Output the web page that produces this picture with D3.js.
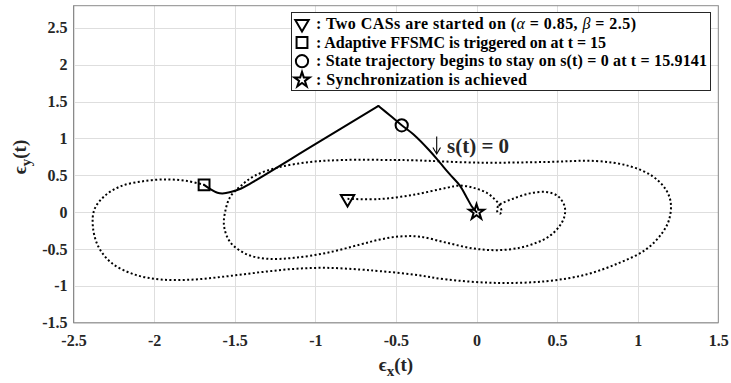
<!DOCTYPE html>
<html>
<head>
<meta charset="utf-8">
<script src="https://cdn.jsdelivr.net/npm/d3@7"></script>
<style>
  body { margin: 0; background: #fff; }
</style>
</head>
<body>
<svg id="chart" width="731" height="383"></svg>
<script>
// Axis settings
const xDomain = [-2.5, 1.5];
const yDomain = [-1.5, 2.8];
const xTicks = [-2.5, -2, -1.5, -1, -0.5, 0, 0.5, 1, 1.5];
const yTicks = [-1.5, -1, -0.5, 0, 0.5, 1, 1.5, 2, 2.5];

// Error trajectory of the two chaotic systems before the controller is switched on
const freeRun = [
  [-0.80, 0.18], [-0.60, 0.178], [-0.39, 0.235], [-0.185, 0.33], [-0.104, 0.36],
  [-0.021, 0.331], [0.062, 0.263], [0.114, 0.172], [0.140, 0.104], [0.155, 0.014],
  [0.145, -0.022], [0.128, 0.014], [0.134, 0.081], [0.165, 0.128], [0.227, 0.182],
  [0.33, 0.254], [0.433, 0.272], [0.505, 0.217], [0.546, 0.082], [0.546, -0.054],
  [0.515, -0.19], [0.453, -0.326], [0.371, -0.416], [0.268, -0.484], [0.124, -0.516],
  [-0.021, -0.493], [-0.185, -0.416], [-0.35, -0.334], [-0.474, -0.33], [-0.598, -0.371],
  [-0.721, -0.439], [-0.927, -0.552], [-1.133, -0.62], [-1.298, -0.633], [-1.422, -0.575],
  [-1.525, -0.416], [-1.566, -0.19], [-1.556, 0.037], [-1.525, 0.217], [-1.463, 0.353],
  [-1.38, 0.489], [-1.236, 0.603], [-1.03, 0.68], [-0.824, 0.707], [-0.515, 0.707],
  [-0.392, 0.703], [0.02, 0.671], [0.433, 0.68], [0.742, 0.693], [0.947, 0.625],
  [1.091, 0.489], [1.174, 0.308], [1.205, 0.128], [1.195, -0.1], [1.153, -0.28],
  [1.051, -0.507], [0.886, -0.688], [0.68, -0.846], [0.433, -0.937], [0.124, -0.96],
  [-0.185, -0.914], [-0.392, -0.846], [-0.598, -0.801], [-0.721, -0.779], [-0.927, -0.756],
  [-1.133, -0.77], [-1.339, -0.815], [-1.545, -0.87], [-1.751, -0.914], [-1.957, -0.914],
  [-2.122, -0.846], [-2.265, -0.688], [-2.347, -0.462], [-2.38, -0.19], [-2.37, 0.037],
  [-2.308, 0.217], [-2.205, 0.353], [-2.061, 0.421], [-1.916, 0.444], [-1.793, 0.421],
  [-1.69, 0.37]
];

// Controlled trajectory: reaching phase, then sliding along s(t) = 0
const reachingPhase = [
  [-1.69, 0.37], [-1.648, 0.308], [-1.607, 0.263], [-1.576, 0.254], [-1.525, 0.272],
  [-1.463, 0.317], [-1.401, 0.39], [-1.0, 0.921], [-0.608, 1.44]
];
const slidingPhase = [
  [-0.608, 1.44], [-0.536, 1.31], [-0.464, 1.178], [-0.392, 1.056], [-0.289, 0.829],
  [-0.227, 0.671], [-0.165, 0.512], [-0.103, 0.36], [-0.06, 0.196], [-0.03, 0.08], [0, 0]
];

// Event markers
const eventPoints = [
  { key: "start", x: -0.8, y: 0.18 },
  { key: "trigger", x: -1.69, y: 0.37 },
  { key: "slide", x: -0.464, y: 1.178 },
  { key: "sync", x: 0, y: 0 }
];

const legendRows = [
  { key: "start", parts: [[": Two CASs are started on (", false], ["α", true], [" = 0.85, ", false], ["β", true], [" = 2.5)", false]] },
  { key: "trigger", parts: [[": Adaptive FFSMC is triggered on at t = 15", false]] },
  { key: "slide", parts: [[": State trajectory begins to stay on s(t) = 0 at t = 15.9141", false]] },
  { key: "sync", parts: [[": Synchronization is achieved", false]] }
];
// right end of each legend line, in pixels
const legendLineEnd = [636, 606, 707, 527];

const FONT = "Liberation Serif";

const svg = d3.select("#chart");
const plot = { left: 73.5, right: 718.3, top: 5.7, bottom: 322.7 };

const x = d3.scaleLinear().domain(xDomain).range([plot.left, plot.right]);
const y = d3.scaleLinear().domain(yDomain).range([plot.bottom, plot.top]);

// Grid
const grid = svg.append("g").attr("stroke", "#dedede").attr("stroke-width", 1);
grid.selectAll("line.gx").data(xTicks).join("line")
  .attr("x1", d => Math.round(x(d)) + 0.5).attr("x2", d => Math.round(x(d)) + 0.5)
  .attr("y1", plot.top).attr("y2", plot.bottom);
grid.selectAll("line.gy").data(yTicks).join("line")
  .attr("y1", d => Math.round(y(d)) + 0.5).attr("y2", d => Math.round(y(d)) + 0.5)
  .attr("x1", plot.left).attr("x2", plot.right);

// Axes (labels only; the frame is drawn separately)
const tickText = d => String(d);
const xAxis = svg.append("g").attr("transform", `translate(0,${plot.bottom})`)
  .call(d3.axisBottom(x).tickValues(xTicks).tickSize(0).tickPadding(12).tickFormat(tickText));
const yAxis = svg.append("g").attr("transform", `translate(${plot.left},0)`)
  .call(d3.axisLeft(y).tickValues(yTicks).tickSize(0).tickPadding(6).tickFormat(tickText));
[xAxis, yAxis].forEach(a => {
  a.attr("font-family", FONT).attr("font-size", 16);
  a.select(".domain").remove();
  a.selectAll("text")
    .attr("font-family", FONT).style("font-family", FONT)
    .attr("font-size", 16).attr("font-weight", "bold").attr("fill", "#262626");
});

// Frame
svg.append("rect")
  .attr("x", plot.left).attr("y", plot.top)
  .attr("width", plot.right - plot.left).attr("height", plot.bottom - plot.top)
  .attr("fill", "none").attr("stroke", "#8a8a8a").attr("stroke-width", 1);

// Axis titles
const xTitle = svg.append("text")
  .attr("x", (plot.left + plot.right) / 2).attr("y", 371)
  .attr("text-anchor", "middle").attr("font-family", FONT)
  .attr("font-size", 19).attr("font-weight", "bold").attr("fill", "#262626");
xTitle.append("tspan").text("ϵ");
xTitle.append("tspan").attr("dy", 5).attr("font-size", 15).text("x");
xTitle.append("tspan").attr("dy", -5).text("(t)");

const yTitle = svg.append("text")
  .attr("transform", "translate(26,157) rotate(-90)")
  .attr("text-anchor", "middle").attr("font-family", FONT)
  .attr("font-size", 19).attr("font-weight", "bold").attr("fill", "#262626");
yTitle.append("tspan").text("ϵ");
yTitle.append("tspan").attr("dy", 5).attr("font-size", 15).text("y");
yTitle.append("tspan").attr("dy", -5).text("(t)");

// Trajectories
const line = d3.line().x(d => x(d[0])).y(d => y(d[1])).curve(d3.curveCatmullRom.alpha(0.5));

svg.append("path").attr("d", line(freeRun))
  .attr("fill", "none").attr("stroke", "#000").attr("stroke-width", 2)
  .attr("stroke-dasharray", "2,2.4");

[reachingPhase, slidingPhase].forEach(seg => {
  svg.append("path").attr("d", line(seg))
    .attr("fill", "none").attr("stroke", "#000").attr("stroke-width", 2)
    .attr("stroke-linecap", "round").attr("stroke-linejoin", "round");
});

// Sliding surface annotation
const arrowX = 436.7;
svg.append("line").attr("x1", arrowX).attr("x2", arrowX).attr("y1", 136.5).attr("y2", 153.5)
  .attr("stroke", "#000").attr("stroke-width", 1.1);
svg.append("path")
  .attr("d", `M${arrowX - 3.8},${147.5} L${arrowX},${154} L${arrowX + 3.8},${147.5}`)
  .attr("fill", "none").attr("stroke", "#000").attr("stroke-width", 1.1);
svg.append("text").attr("x", 447).attr("y", 152.5).attr("font-family", FONT)
  .attr("font-size", 21).attr("font-weight", "bold").attr("fill", "#262626")
  .text("s(t) = 0");

// Marker shapes
const symbolFor = {
  start: { type: d3.symbolTriangle, size: 78, rot: 180 },
  trigger: { type: d3.symbolSquare, size: 118, rot: 0 },
  slide: { type: d3.symbolCircle, size: 118, rot: 0 },
  sync: { type: d3.symbolStar, size: 72, rot: 0 }
};
function drawMarker(g, key, cx, cy) {
  const s = symbolFor[key];
  g.append("path")
    .attr("d", d3.symbol().type(s.type).size(s.size)())
    .attr("transform", `translate(${cx},${cy}) rotate(${s.rot})`)
    .attr("fill", "none").attr("stroke", "#000").attr("stroke-width", 2)
    .attr("stroke-linejoin", "miter");
}
const markers = svg.append("g");
eventPoints.forEach(p => drawMarker(markers, p.key, x(p.x), y(p.y)));

// Legend
const legend = svg.append("g");
legend.append("rect")
  .attr("x", 291.5).attr("y", 12.5).attr("width", 419).attr("height", 78)
  .attr("fill", "#fff").attr("stroke", "#262626").attr("stroke-width", 1);
const rowY = [23.8, 42.5, 61.2, 79.9];
const textStart = 316;
legendRows.forEach((row, i) => {
  drawMarker(legend, row.key, 302, rowY[i]);
  const t = legend.append("text")
    .attr("x", textStart).attr("y", rowY[i] + 5).attr("font-family", FONT)
    .attr("font-size", 16).attr("font-weight", "bold").attr("fill", "#000");
  row.parts.forEach(([txt, ital]) => {
    const ts = t.append("tspan").text(txt);
    if (ital) ts.attr("font-style", "italic").attr("font-weight", "normal");
  });
  t.attr("textLength", legendLineEnd[i] - textStart).attr("lengthAdjust", "spacing");
});
</script>
</body>
</html>
